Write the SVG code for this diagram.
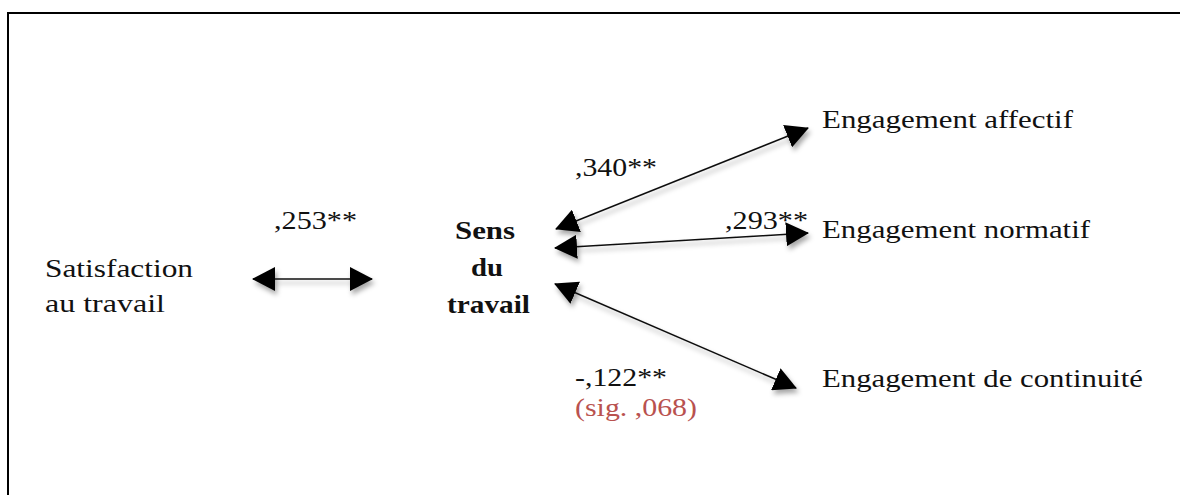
<svg xmlns="http://www.w3.org/2000/svg" width="1180" height="495" viewBox="0 0 1180 495" font-family="'Liberation Serif', 'DejaVu Serif', 'Times New Roman', Times, serif">
  <style>
    text { font-family: 'Liberation Serif', 'DejaVu Serif', 'Times New Roman', Times, serif; font-size: 26px; fill: #111; }
    .bold { font-weight: bold; }
    .sig { fill: #b9524f; }
    .frame { stroke: #000; stroke-width: 2; fill: none; }
    .link { stroke: #111; stroke-width: 1.5; fill: none; marker-start: url(#head); marker-end: url(#head); }
  </style>
  <defs>
    <marker id="head" viewBox="0 0 23 24" refX="22" refY="12" markerWidth="23" markerHeight="24" markerUnits="userSpaceOnUse" orient="auto-start-reverse">
      <path d="M0,0 L23,12 L0,24 Z" fill="#000"/>
    </marker>
    <filter id="shadow" x="-10%" y="-20%" width="130%" height="160%">
      <feDropShadow dx="2" dy="4" stdDeviation="2.5" flood-color="#000" flood-opacity="0.35"/>
    </filter>
  </defs>

  <rect width="1180" height="495" fill="#fff"/>

  <!-- open frame: top and left edges only -->
  <path class="frame" d="M8,495 L8,13 L1180,13"/>

  <g id="connectors" filter="url(#shadow)">
    <line id="c-satisfaction-sens" class="link" x1="253" y1="279" x2="372" y2="279"/>
    <line id="c-sens-affectif" class="link" x1="556" y1="229" x2="808" y2="128"/>
    <line id="c-sens-normatif" class="link" x1="555" y1="248" x2="808" y2="233"/>
    <line id="c-sens-continuite" class="link" x1="555" y1="284" x2="796" y2="388"/>
  </g>

  <g id="node-satisfaction">
    <text x="45" y="277" textLength="148" lengthAdjust="spacingAndGlyphs">Satisfaction</text>
    <text x="45" y="312" textLength="120" lengthAdjust="spacingAndGlyphs">au travail</text>
  </g>

  <g id="node-sens">
    <text class="bold" x="455" y="239" textLength="60" lengthAdjust="spacingAndGlyphs">Sens</text>
    <text class="bold" x="471" y="276" textLength="32" lengthAdjust="spacingAndGlyphs">du</text>
    <text class="bold" x="447" y="313" textLength="83" lengthAdjust="spacingAndGlyphs">travail</text>
  </g>

  <g id="node-affectif">
    <text x="822" y="128" textLength="251" lengthAdjust="spacingAndGlyphs">Engagement affectif</text>
  </g>
  <g id="node-normatif">
    <text x="822" y="238" textLength="268" lengthAdjust="spacingAndGlyphs">Engagement normatif</text>
  </g>
  <g id="node-continuite">
    <text x="822" y="387" textLength="321" lengthAdjust="spacingAndGlyphs">Engagement de continuité</text>
  </g>

  <g id="labels">
    <text x="274" y="229" textLength="83" lengthAdjust="spacingAndGlyphs">,253**</text>
    <text x="575" y="176" textLength="82" lengthAdjust="spacingAndGlyphs">,340**</text>
    <text x="725" y="229" textLength="83" lengthAdjust="spacingAndGlyphs">,293**</text>
    <text x="575" y="386" textLength="92" lengthAdjust="spacingAndGlyphs">-,122**</text>
    <text class="sig" x="575" y="416" textLength="122" lengthAdjust="spacingAndGlyphs">(sig. ,068)</text>
  </g>
</svg>
